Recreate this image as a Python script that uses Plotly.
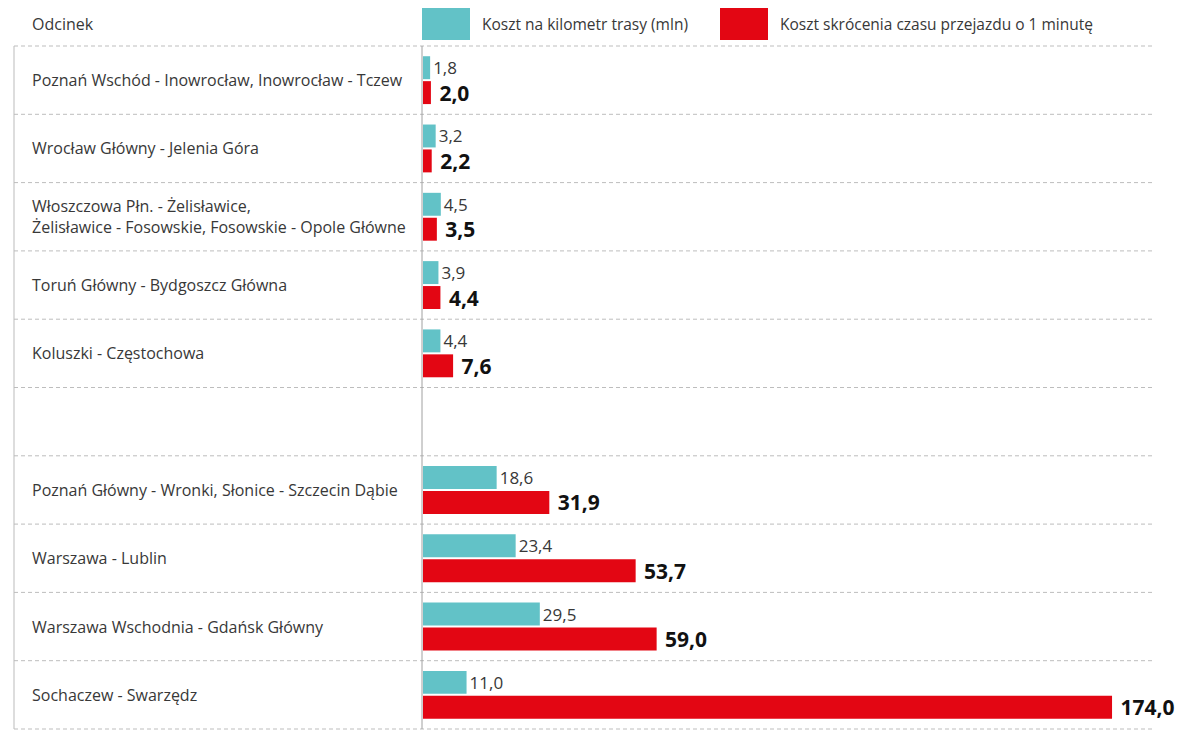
import plotly.graph_objects as go

# Odcinki linii kolejowych i koszty (mln zł)
sections = [
    "Poznań Wschód - Inowrocław, Inowrocław - Tczew",
    "Wrocław Główny - Jelenia Góra",
    "Włoszczowa Płn. - Żelisławice,<br>Żelisławice - Fosowskie, Fosowskie - Opole Główne",
    "Toruń Główny - Bydgoszcz Główna",
    "Koluszki - Częstochowa",
    "Poznań Główny - Wronki, Słonice - Szczecin Dąbie",
    "Warszawa - Lublin",
    "Warszawa Wschodnia - Gdańsk Główny",
    "Sochaczew - Swarzędz",
]
cost_per_km = [1.8, 3.2, 4.5, 3.9, 4.4, 18.6, 23.4, 29.5, 11.0]
cost_per_minute = [2.0, 2.2, 3.5, 4.4, 7.6, 31.9, 53.7, 59.0, 174.0]
legend_names = ["Koszt na kilometr trasy (mln)", "Koszt skrócenia czasu przejazdu o 1 minutę"]
header = "Odcinek"

TEAL = "#62C2C7"
RED = "#E30613"
GRID = "#BDBDBD"
TXT = "#383838"
FONT = "Open Sans"

W, H = 1186, 730
L, T, B = 423, 46, 1
plot_w = W - L
plot_h = H - T - B

# first group of five, an empty row, then the remaining four
n_first = 5
rows = [i if i < n_first else i + 1 for i in range(len(sections))]
n_rows = len(sections) + 1
ycent = [r + 0.5 for r in rows]

px_per_unit = 3.96
x_max = plot_w / px_per_unit


def px_x(p):
    return (p - L) / plot_w


def px_y(p):
    return 1 - (p - T) / plot_h


fig = go.Figure()
fig.add_trace(go.Bar(
    y=ycent, x=cost_per_km, orientation="h", name=legend_names[0],
    marker=dict(color=TEAL, line=dict(width=0)),
    texttemplate="%{x:.1f}", textposition="outside",
    textfont=dict(family=FONT, size=17, color=TXT),
    constraintext="none", cliponaxis=False, hoverinfo="skip",
))
fig.add_trace(go.Bar(
    y=ycent, x=cost_per_minute, orientation="h", name=legend_names[1],
    marker=dict(color=RED, line=dict(width=0)),
    texttemplate="<b> %{x:.1f}</b>", textposition="outside",
    textfont=dict(family=FONT, size=21, color="#111111"),
    constraintext="none", cliponaxis=False, hoverinfo="skip",
))

shapes = []
# dashed row separators
for k in range(n_rows + 1):
    yp = 1 - k / n_rows
    shapes.append(dict(type="line", xref="paper", yref="paper",
                       x0=px_x(14), x1=px_x(1155), y0=yp, y1=yp,
                       line=dict(color=GRID, width=1, dash="4px,3px")))
# left border and divider between labels and bars
for xp, col in ((14, "#BBBBBB"), (422, "#A0A0A0")):
    shapes.append(dict(type="line", xref="paper", yref="paper",
                       x0=px_x(xp), x1=px_x(xp), y0=0, y1=1,
                       line=dict(color=col, width=1)))
# legend swatches
for x0, col in ((422, TEAL), (720, RED)):
    shapes.append(dict(type="rect", xref="paper", yref="paper",
                       x0=px_x(x0), x1=px_x(x0 + 48), y0=px_y(40), y1=px_y(8),
                       fillcolor=col, line=dict(width=0)))

annotations = [
    dict(text=header, xref="paper", yref="paper", x=px_x(30), y=px_y(24),
         xanchor="left", yanchor="middle", showarrow=False,
         font=dict(family=FONT, size=16, color=TXT)),
    dict(text=legend_names[0], xref="paper", yref="paper", x=px_x(480), y=px_y(24),
         xanchor="left", yanchor="middle", showarrow=False,
         font=dict(family=FONT, size=15.5, color=TXT)),
    dict(text=legend_names[1], xref="paper", yref="paper", x=px_x(778), y=px_y(24),
         xanchor="left", yanchor="middle", showarrow=False,
         font=dict(family=FONT, size=15.5, color=TXT)),
]
for name, yc in zip(sections, ycent):
    annotations.append(dict(text=name, xref="paper", yref="y", x=px_x(30), y=yc,
                            xanchor="left", yanchor="middle", align="left",
                            showarrow=False,
                            font=dict(family=FONT, size=16, color=TXT)))

fig.update_layout(
    width=W, height=H,
    margin=dict(l=L, r=0, t=T, b=B, pad=0),
    paper_bgcolor="white", plot_bgcolor="white",
    barmode="group", bargap=0.27, bargroupgap=0.08,
    separators=", ",
    showlegend=False,
    xaxis=dict(range=[0, x_max], visible=False, fixedrange=True),
    yaxis=dict(range=[n_rows, 0], visible=False, fixedrange=True),
    shapes=shapes, annotations=annotations,
)

fig.write_html("out.html")
